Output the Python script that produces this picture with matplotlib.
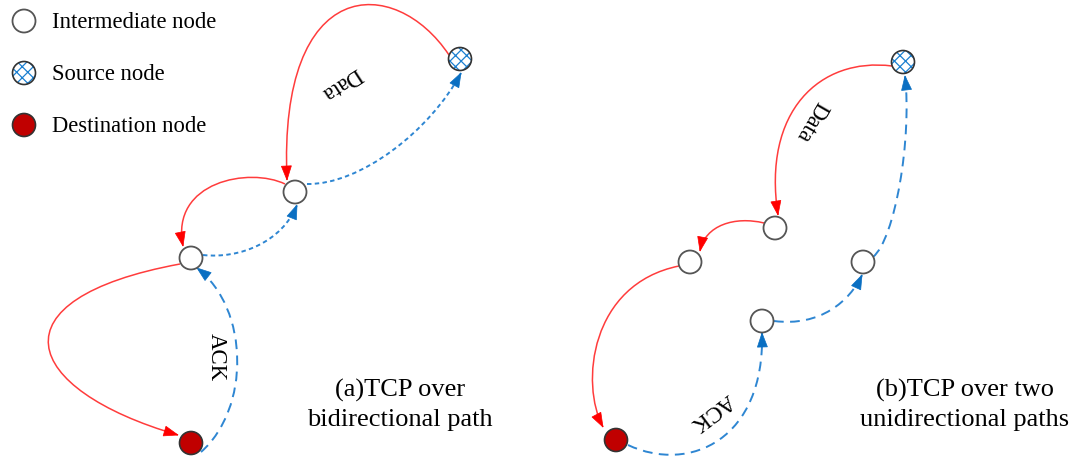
import numpy as np
import matplotlib
matplotlib.use("Agg")
import matplotlib.pyplot as plt
from matplotlib.patches import Circle, PathPatch, Polygon
from matplotlib.path import Path

plt.rcParams['lines.scale_dashes'] = False
SERIF = ['Liberation Serif', 'DejaVu Serif']

# ---- data -------------------------------------------------------------
legend_labels = ["Intermediate node", "Source node", "Destination node"]
legend_kinds = ["inter", "source", "dest"]

node_x = [460, 295, 191, 191, 903, 775, 690, 863, 762, 616]
node_y = [60, 193, 259, 444, 63, 229, 263, 263, 322, 441]
node_kind = ["source", "inter", "inter", "dest",
             "source", "inter", "inter", "inter", "inter", "dest"]

# edges: colour kind, dash kind, four Bezier control points
edge_kind = ["data", "ack", "data", "ack", "data", "ack",
             "data", "data", "data", "ack", "ack", "ack"]
edge_dash = ["solid", "short", "solid", "short", "solid", "long",
             "solid", "solid", "solid", "long", "long", "long"]
edge_pts = [
    [(449, 56), (395, -25), (278, -25), (287, 181)],
    [(307, 185), (360, 186), (430, 132), (461, 74)],
    [(285, 185), (250, 168), (170, 182), (183, 247)],
    [(203, 256), (240, 260), (282, 243), (297, 206)],
    [(180, 265), (-10, 300), (20, 390), (178, 436)],
    [(201, 453), (250, 410), (250, 310), (197, 269)],
    [(892, 67), (820, 58), (762, 112), (778, 216)],
    [(764, 224), (735, 217), (705, 226), (700, 252)],
    [(679, 267), (590, 285), (580, 385), (603, 428)],
    [(628, 446), (690, 475), (765, 440), (762, 334)],
    [(774, 322), (820, 328), (850, 302), (862, 276)],
    [(873, 258), (895, 240), (912, 140), (905, 77)],
]

text_labels = ["Data", "ACK", "Data", "ACK"]
text_x = [341, 216, 811, 712]
text_y = [83, 357, 121, 412]
text_rot = [213, -90, 240, 217]

captions = ["(a)TCP over\nbidirectional path", "(b)TCP over two\nunidirectional paths"]
caption_x = [400, 965]
caption_y = [405, 405]

# ---- style ------------------------------------------------------------
R = 11.5
RED_LINE = '#ff3c3c'
RED_HEAD = '#ff0000'
BLUE_LINE = '#2e86d2'
BLUE_HEAD = '#0a6fc2'
DASHES = {"solid": "-", "short": (0, (3.2, 2.4)), "long": (0, (7.0, 4.6))}

fig = plt.figure(figsize=(10.73, 4.60), dpi=100)
ax = fig.add_axes([0, 0, 1, 1])
ax.set_xlim(0, 1073)
ax.set_ylim(460, 0)
ax.axis('off')


def draw_node(x, y, kind):
    if kind == "inter":
        ax.add_patch(Circle((x, y), R, facecolor='white', edgecolor='#555555',
                            lw=1.3, zorder=5))
    elif kind == "source":
        ax.add_patch(Circle((x, y), R, facecolor='white', edgecolor='#1a7fd0',
                            hatch='xxx', lw=0, zorder=5))
        ax.add_patch(Circle((x, y), R, facecolor='none', edgecolor='#333333',
                            lw=1.2, zorder=6))
    else:
        ax.add_patch(Circle((x, y), R, facecolor='#c00000', edgecolor='#333333',
                            lw=1.2, zorder=5))


plt.rcParams['hatch.linewidth'] = 0.9

for (lab, kind, yy) in zip(legend_labels, legend_kinds, [22, 74, 126]):
    draw_node(24, yy, kind)
    ax.text(52, yy + 1, lab, fontsize=16.3, family=SERIF, va='center', ha='left')

for x, y, k in zip(node_x, node_y, node_kind):
    draw_node(x, y, k)

HL, HW = 14.0, 10.0
for kind, dash, pts in zip(edge_kind, edge_dash, edge_pts):
    pts = np.array(pts, dtype=float)
    line_c = RED_LINE if kind == "data" else BLUE_LINE
    head_c = RED_HEAD if kind == "data" else BLUE_HEAD
    lw = 1.1 if kind == "data" else 1.4
    path = Path(pts, [Path.MOVETO, Path.CURVE4, Path.CURVE4, Path.CURVE4])
    ax.add_patch(PathPatch(path, facecolor='none', edgecolor=line_c, lw=lw,
                           linestyle=DASHES[dash], zorder=3, capstyle='butt'))
    tip = pts[3]
    d = pts[3] - pts[2]
    d = d / np.hypot(*d)
    nrm = np.array([-d[1], d[0]])
    base = tip - HL * d
    tri = [tip, base + nrm * HW / 2, base - nrm * HW / 2]
    ax.add_patch(Polygon(tri, closed=True, facecolor=head_c, edgecolor=head_c,
                         lw=0.5, zorder=4))

for s, x, y, r in zip(text_labels, text_x, text_y, text_rot):
    ax.text(x, y, s, fontsize=16.5, family=SERIF, rotation=r,
            ha='center', va='center', rotation_mode='anchor')

for s, x, y in zip(captions, caption_x, caption_y):
    ax.text(x, y, s, fontsize=19, family=SERIF, ha='center', va='center',
            multialignment='center', linespacing=1.45)

fig.savefig('out.png', dpi=100)
